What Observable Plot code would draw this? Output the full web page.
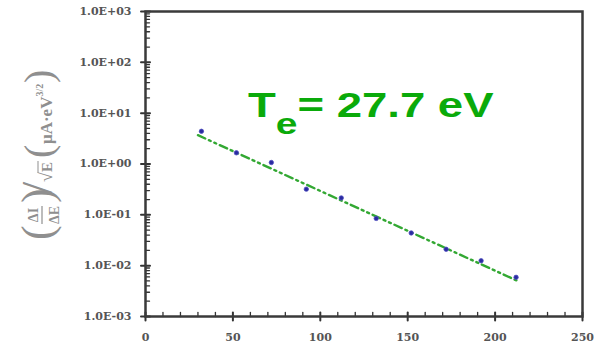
<!DOCTYPE html>
<html>
<head>
<meta charset="utf-8">
<script src="https://cdn.jsdelivr.net/npm/d3@7"></script>
<script src="https://cdn.jsdelivr.net/npm/@observablehq/plot@0.6"></script>
<style>
  html, body { margin: 0; padding: 0; background: #fff; }
  #chart { position: relative; width: 601px; height: 349px; }
</style>
</head>
<body>
<div id="chart"></div>
<script>
// Measured derivative signal vs. electron energy (log scale)
const energies = [32, 52, 72, 92, 112, 132, 152, 172, 192, 212];
const signal = [4.4, 1.66, 1.07, 0.32, 0.215, 0.085, 0.044, 0.021, 0.0125, 0.0059];

// Exponential fit: signal = A * exp(-E / Te)
const electronTemp = 27.7;
const fitAmplitude = 10.9;
const fitRange = [30, 213];

// Axis ticks and labels
const yTickValues = [1e-3, 1e-2, 1e-1, 1, 10, 100, 1000];
const yTickLabels = ["1.0E-03", "1.0E-02", "1.0E-01", "1.0E+00", "1.0E+01", "1.0E+02", "1.0E+03"];
const xTickValues = [0, 50, 100, 150, 200, 250];
const xMinorTicks = [10, 20, 30, 40, 60, 70, 80, 90, 110, 120, 130, 140, 160, 170, 180, 190, 210, 220, 230, 240];
const yMinorMantissas = [2, 3, 4, 5, 6, 7, 8, 9];

const yMinorTicks = yTickValues.slice(0, -1).flatMap(p => yMinorMantissas.map(m => m * p));
const points = energies.map((E, i) => ({E, v: signal[i]}));
const fitLine = fitRange.map(E => ({E, v: fitAmplitude * Math.exp(-E / electronTemp)}));

// straight tick shape for vector marks
const tickShape = {draw(context, l) { context.moveTo(0, 0); context.lineTo(0, -l); }};
const axisColor = "#333";

const plot = Plot.plot({
  width: 601,
  height: 349,
  marginLeft: 145,
  marginRight: 19,
  marginTop: 11,
  marginBottom: 33,
  style: {fontFamily: "'DejaVu Serif', serif", fontSize: "10.5px", fontWeight: "bold", color: "#555", background: "#fff"},
  x: {domain: [0, 250], ticks: xTickValues, tickSize: 0, tickPadding: 17, label: null},
  y: {type: "log", domain: [1e-3, 1e3], ticks: yTickValues, tickSize: 0, tickPadding: 14,
      tickFormat: d => yTickLabels[yTickValues.indexOf(d)], label: null},
  marks: [
    Plot.vector(yMinorTicks, {y: d => d, frameAnchor: "left", rotate: 90, length: 4, anchor: "start", shape: tickShape, stroke: axisColor, strokeWidth: 1.3}),
    Plot.vector(yTickValues, {y: d => d, frameAnchor: "left", rotate: 90, length: 9, anchor: "middle", shape: tickShape, stroke: axisColor, strokeWidth: 2}),
    Plot.vector(xMinorTicks, {x: d => d, frameAnchor: "bottom", rotate: 0, length: 4, anchor: "start", shape: tickShape, stroke: axisColor, strokeWidth: 1.3}),
    Plot.vector(xTickValues, {x: d => d, frameAnchor: "bottom", rotate: 0, length: 8, anchor: "middle", shape: tickShape, stroke: axisColor, strokeWidth: 2}),
    Plot.frame({stroke: "#3a3a3a", strokeWidth: 2.5}),
    Plot.line(fitLine, {x: "E", y: "v", stroke: "#33a833", strokeWidth: 2.4, strokeDasharray: "8,4,2,4,2,4"}),
    Plot.dot(points, {x: "E", y: "v", r: 2.2, fill: "#2a2aa0", stroke: "#5050c0", strokeWidth: 0.8})
  ]
});

document.getElementById("chart").appendChild(plot);
const svg = d3.select(plot);

// widen tick labels slightly
svg.selectAll("g[aria-label='x-axis tick label'] text, g[aria-label='y-axis tick label'] text")
  .attr("transform", function() { return `${this.getAttribute("transform") || ""} scale(1.05,1)`; });

// Electron temperature annotation
const te = svg.append("text")
  .attr("transform", "translate(248,117) scale(1.3,1)")
  .attr("text-anchor", "start")
  .attr("fill", "#0aaa0a")
  .attr("font-family", "'Liberation Sans', Arial, sans-serif")
  .attr("font-weight", "bold")
  .attr("font-size", 35);
te.append("tspan").text("T");
te.append("tspan").attr("font-size", 30).attr("dy", 17).text("e");
te.append("tspan").attr("dy", -17).text("= 27.7 eV");

// Rotated y-axis title: (ΔI/ΔE)/√E (μA·eV^3/2)
const title = svg.append("g")
  .attr("transform", "translate(50,240) rotate(-90)")
  .attr("fill", "#8f8f8f")
  .attr("font-family", "'Liberation Serif', 'Times New Roman', serif");
const part = (x, y, txt, size, weight = "normal", anchor = "start") =>
  title.append("text").attr("x", x).attr("y", y).attr("font-size", size)
    .attr("font-weight", weight).attr("text-anchor", anchor).text(txt);
part(0, 2, "(", 44);
part(25, -12, "ΔI", 14, "bold", "middle");
title.append("line").attr("x1", 16).attr("x2", 34).attr("y1", -8).attr("y2", -8)
  .attr("stroke", "#8f8f8f").attr("stroke-width", 1.2);
part(25, 9, "ΔE", 14, "bold", "middle");
part(37, 2, ")", 44);
part(46, 2, "/", 44);
part(58, 2, "√", 18);
part(68, 2, "E", 15, "bold");
title.append("line").attr("x1", 67).attr("x2", 79).attr("y1", -12).attr("y2", -12)
  .attr("stroke", "#8f8f8f").attr("stroke-width", 1);
part(82, 2, "(", 40);
const units = part(96, 2, "μA·eV", 17, "bold");
units.append("tspan").attr("font-size", 10).attr("dy", -9).text("3/2");
part(157, 2, ")", 40);
</script>
</body>
</html>
